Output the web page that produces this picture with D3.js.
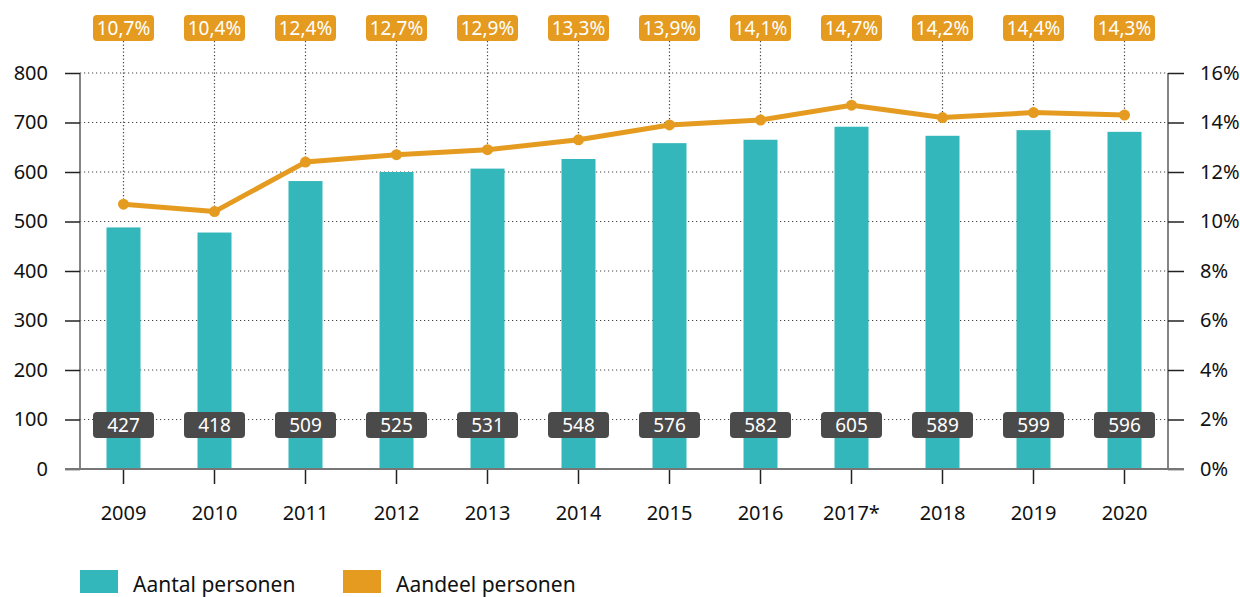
<!DOCTYPE html>
<html>
<head>
<meta charset="utf-8">
<script src="https://cdn.jsdelivr.net/npm/d3@7"></script>
<style>
  body { margin: 0; background: #fff; }
  svg { display: block; font-family: "Noto Sans", sans-serif; }
</style>
</head>
<body>
<svg width="1240" height="597"></svg>
<script>
// data
var years = ["2009", "2010", "2011", "2012", "2013", "2014", "2015", "2016", "2017*", "2018", "2019", "2020"];
var aantal = [427, 418, 509, 525, 531, 548, 576, 582, 605, 589, 599, 596];
var aandeel = [10.7, 10.4, 12.4, 12.7, 12.9, 13.3, 13.9, 14.1, 14.7, 14.2, 14.4, 14.3];
var leftTicks = [0, 100, 200, 300, 400, 500, 600, 700, 800];
var rightTicks = [0, 2, 4, 6, 8, 10, 12, 14, 16];

var teal = "#33b7bb", orange = "#e59b20", dark = "#4a4a4a";

var svg = d3.select("svg"),
    plotLeft = 80, plotRight = 1168, plotTop = 73, plotBottom = 469;

var x = d3.scaleBand().domain(years).range([78, 1170]).paddingInner(0).paddingOuter(0);
// the bars in the original are drawn against 0-700 although the axis reads 0-800
var yBar = d3.scaleLinear().domain([0, 700]).range([plotBottom, plotTop]);
var yAxisScale = d3.scaleLinear().domain([0, 800]).range([plotBottom, plotTop]);
var yPct = d3.scaleLinear().domain([0, 16]).range([plotBottom, plotTop]);

function cx(d) { return x(d) + x.bandwidth() / 2; }

// gridlines
svg.append("g").selectAll("line").data(leftTicks.slice(1)).enter().append("line")
    .attr("x1", plotLeft).attr("x2", plotRight)
    .attr("y1", function (d) { return yAxisScale(d); })
    .attr("y2", function (d) { return yAxisScale(d); })
    .attr("stroke", "#444").attr("stroke-width", 1.2)
    .attr("stroke-dasharray", "1.2,2.8");

// bars
svg.append("g").selectAll("rect").data(aantal).enter().append("rect")
    .attr("x", function (d, i) { return cx(years[i]) - 17; })
    .attr("width", 34)
    .attr("y", function (d) { return yBar(d); })
    .attr("height", function (d) { return plotBottom - yBar(d); })
    .attr("fill", teal);

// vertical dotted lines from label to point
svg.append("g").selectAll("line").data(aandeel).enter().append("line")
    .attr("x1", function (d, i) { return cx(years[i]); })
    .attr("x2", function (d, i) { return cx(years[i]); })
    .attr("y1", 41)
    .attr("y2", function (d) { return yPct(d); })
    .attr("stroke", "#444").attr("stroke-width", 1.2)
    .attr("stroke-dasharray", "1.2,2.3");

// axes
var gl = svg.append("g").attr("transform", "translate(" + plotLeft + ",0)")
    .call(d3.axisLeft(yAxisScale).tickValues(leftTicks).tickSize(15).tickPadding(17));
var gr = svg.append("g").attr("transform", "translate(" + plotRight + ",0)")
    .call(d3.axisRight(yPct).tickValues(rightTicks).tickSize(16).tickPadding(16)
        .tickFormat(function (d) { return d + "%"; }));
var gb = svg.append("g").attr("transform", "translate(0," + plotBottom + ")")
    .call(d3.axisBottom(x).tickSize(15).tickPadding(22));

[gl, gr, gb].forEach(function (g) {
    g.select(".domain").attr("stroke", "#777").attr("stroke-width", 1.8);
    g.selectAll(".tick line").attr("stroke", "#222").attr("stroke-width", 1.5);
    g.selectAll("text").attr("font-size", 20).attr("fill", "#111")
        .attr("font-family", "'Noto Sans', sans-serif");
});
gl.select(".domain").attr("d", "M0," + plotTop + "V" + plotBottom);
gr.select(".domain").attr("d", "M0," + plotTop + "V" + plotBottom);
gb.select(".domain").attr("d", "M65,0H1184");
gb.selectAll(".tick line").attr("y1", 1);

// line
var line = d3.line()
    .x(function (d, i) { return cx(years[i]); })
    .y(function (d) { return yPct(d); });

svg.append("path").datum(aandeel)
    .attr("d", line)
    .attr("fill", "none")
    .attr("stroke", orange)
    .attr("stroke-width", 5)
    .attr("stroke-linejoin", "round");

svg.append("g").selectAll("circle").data(aandeel).enter().append("circle")
    .attr("cx", function (d, i) { return cx(years[i]); })
    .attr("cy", function (d) { return yPct(d); })
    .attr("r", 5.5)
    .attr("fill", orange);

// percentage labels
var fmt = function (d) { return d3.format(".1f")(d).replace(".", ",") + "%"; };
var pl = svg.append("g").selectAll("g").data(aandeel).enter().append("g")
    .attr("transform", function (d, i) { return "translate(" + cx(years[i]) + ",28)"; });
pl.append("rect").attr("x", -30.5).attr("y", -13).attr("width", 61).attr("height", 26)
    .attr("rx", 4).attr("fill", orange);
pl.append("text").attr("text-anchor", "middle").attr("dy", "0.36em")
    .attr("font-size", 19).attr("fill", "#fff").text(fmt);

// count labels
var cl = svg.append("g").selectAll("g").data(aantal).enter().append("g")
    .attr("transform", function (d, i) { return "translate(" + cx(years[i]) + ",425)"; });
cl.append("rect").attr("x", -30.5).attr("y", -13).attr("width", 61).attr("height", 26)
    .attr("rx", 4).attr("fill", dark);
cl.append("text").attr("text-anchor", "middle").attr("dy", "0.36em")
    .attr("font-size", 19).attr("fill", "#fff").text(function (d) { return d; });

// legend
var legend = [{ name: "Aantal personen", color: teal, x: 80 }, { name: "Aandeel personen", color: orange, x: 343 }];
var lg = svg.append("g").selectAll("g").data(legend).enter().append("g")
    .attr("transform", function (d) { return "translate(" + d.x + ",570)"; });
lg.append("rect").attr("width", 38).attr("height", 23).attr("fill", function (d) { return d.color; });
lg.append("text").attr("x", 53).attr("y", 22).attr("font-size", 21).attr("fill", "#111")
    .text(function (d) { return d.name; });
</script>
</body>
</html>
